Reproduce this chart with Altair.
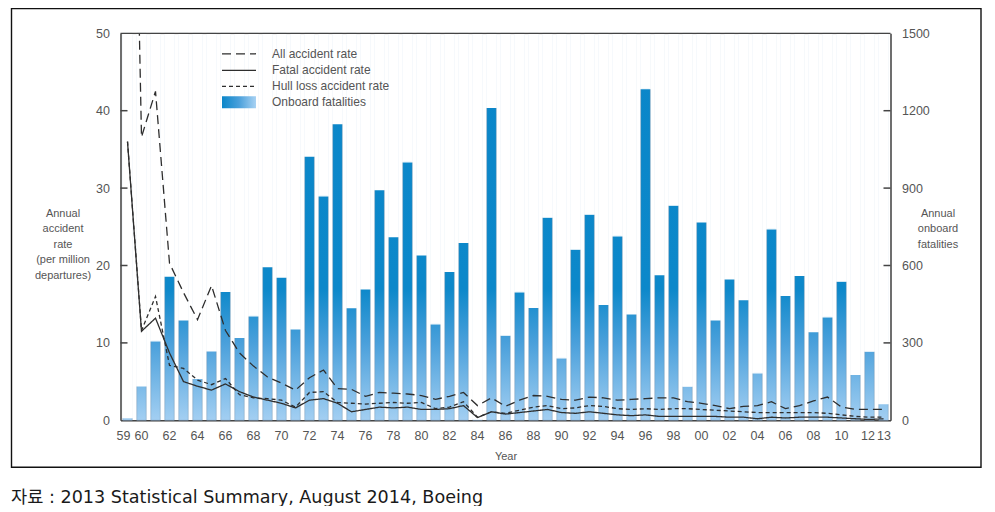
import altair as alt
import pandas as pd

# ---------------- data ----------------
years = list(range(1959, 2014))
fatalities = [10, 133, 308, 559, 389, 162, 269, 500, 321, 405,
              596, 555, 354, 1024, 870, 1150, 437, 509, 894, 712,
              1002, 641, 374, 577, 690, 4, 1213, 330, 498, 438,
              787, 242, 663, 799, 449, 715, 412, 1285, 565, 834,
              132, 769, 389, 548, 468, 184, 742, 484, 562, 344,
              401, 539, 178, 268, 65]
all_rate = [125, 36.6, 42.5, 20.3, 16.5, 13.0, 17.4, 11.6, 8.7, 7.0,
            5.6, 4.8, 3.9, 5.5, 6.5, 4.1, 4.0, 3.1, 3.6, 3.5,
            3.4, 3.2, 2.7, 3.1, 3.6, 1.9, 2.9, 1.8, 2.6, 3.2,
            3.1, 2.7, 2.6, 3.0, 2.9, 2.6, 2.7, 2.8, 2.9, 2.9,
            2.4, 2.2, 1.9, 1.5, 1.8, 1.9, 2.4, 1.5, 1.9, 2.5,
            3.0, 1.7, 1.4, 1.4, 1.4]
fatal_rate = [36.0, 11.5, 13.2, 8.7, 5.0, 4.4, 3.9, 4.7, 3.7, 3.0,
              2.6, 2.2, 1.6, 2.6, 2.8, 2.2, 1.1, 1.4, 1.7, 1.6,
              1.7, 1.4, 1.4, 1.5, 1.9, 0.35, 1.1, 0.8, 1.0, 1.2,
              1.4, 1.0, 0.9, 1.1, 0.9, 0.7, 0.6, 0.7, 0.5, 0.5,
              0.5, 0.5, 0.5, 0.4, 0.4, 0.2, 0.4, 0.3, 0.4, 0.4,
              0.4, 0.3, 0.2, 0.1, 0.2]
hull_rate = [36.0, 11.6, 16.0, 7.1, 6.7, 5.2, 4.6, 5.4, 3.3, 2.9,
             2.8, 2.6, 1.7, 3.6, 3.7, 2.3, 2.2, 2.1, 2.2, 2.3,
             2.2, 2.3, 1.5, 1.7, 2.4, 0.4, 1.1, 0.9, 1.3, 1.7,
             1.9, 1.5, 1.6, 1.9, 1.8, 1.5, 1.4, 1.5, 1.4, 1.5,
             1.5, 1.4, 1.3, 1.2, 1.1, 1.0, 1.0, 1.0, 1.0, 1.0,
             0.9, 0.7, 0.5, 0.4, 0.4]
x_label_years = [1959, 1960] + list(range(1962, 2013, 2)) + [2013]
left_values = [0, 10, 20, 30, 40, 50]
left_ticks = [10, 20, 30, 40]
right_values = [0, 300, 600, 900, 1200, 1500]
right_ticks = [300, 600, 900, 1200]
series_names = ["All accident rate", "Fatal accident rate", "Hull loss accident rate"]
bar_name = "Onboard fatalities"
left_title = ["Annual", "accident", "rate", "(per million", "departures)"]
right_title = ["Annual", "onboard", "fatalities"]
x_title = "Year"
source_note = "자료 : 2013 Statistical Summary, August 2014, Boeing"

assert len(fatalities) == len(years) == len(all_rate) == len(fatal_rate) == len(hull_rate)

# ---------------- layout / style ----------------
W, H = 770, 387
FONT = "Liberation Sans"
TXT = "#555555"
AX = "#444444"
LINE = "#2e2e2e"
RMAX = 1500
LMAX = 50

bars_df = pd.DataFrame({"year": years, "fatalities": fatalities})
bars_df["top"] = RMAX
lines_df = pd.concat([
    pd.DataFrame({"year": years, "rate": vals, "series": name})
    for name, vals in zip(series_names, [all_rate, fatal_rate, hull_rate])
], ignore_index=True)

x_enc = alt.X(
    "year:O",
    scale=alt.Scale(paddingInner=0.32, paddingOuter=0.16),
    axis=alt.Axis(values=x_label_years,
                  labelExpr="substring(toString(datum.value), 2)",
                  labelOffset={"condition": [
                      {"test": "datum.value == 1959", "value": -4},
                      {"test": "datum.value == 2012", "value": -1.5},
                      {"test": "datum.value == 2013", "value": 0.5}],
                      "value": 0},
                  labelAngle=0, ticks=False, labelPadding=9,
                  labelFontSize=12.5, labelColor=TXT, labelFont=FONT,
                  domainColor=AX, domainWidth=1.5,
                  title=x_title, titleFontSize=11, titleFontWeight="normal",
                  titleColor=TXT, titleFont=FONT, titlePadding=9),
)

right_scale = alt.Scale(domain=[0, RMAX], nice=False, zero=True)
right_axis = alt.Axis(orient="right", values=right_values, format="d", ticks=False, grid=False,
                      labelPadding=11, labelFontSize=12.5, labelColor=TXT, labelFont=FONT,
                      domainColor=AX, domainWidth=1.5,
                      title=right_title, titleAngle=0, titleAlign="center",
                      titleBaseline="top", titleX=47, titleY=174,
                      titleFontSize=11, titleFontWeight="normal", titleColor=TXT,
                      titleFont=FONT, titleLineHeight=15.5)
left_scale = alt.Scale(domain=[0, LMAX], nice=False, zero=True)
left_axis = alt.Axis(orient="left", values=left_values, format="d", ticks=False, grid=False,
                     labelPadding=11, labelFontSize=12.5, labelColor=TXT, labelFont=FONT,
                     domainColor=AX, domainWidth=1.5,
                     title=left_title, titleAngle=0, titleAlign="center",
                     titleBaseline="top", titleX=-58, titleY=174,
                     titleFontSize=11, titleFontWeight="normal", titleColor=TXT,
                     titleFont=FONT, titleLineHeight=15.5)

bar_gradient = alt.Gradient(
    gradient="linear", x1=0, x2=0, y1=0, y2=1,
    stops=[alt.GradientStop(color="#0a86c9", offset=0),
           alt.GradientStop(color="#0c88ca", offset=0.66),
           alt.GradientStop(color="#4aa0db", offset=0.80),
           alt.GradientStop(color="#a3cff2", offset=1)])

# full-height gradient column (same box for all -> absolute gradient)
grad_bars = alt.Chart(bars_df).mark_bar(
    color=bar_gradient, stroke="#6f8ea8", strokeWidth=0.5, strokeOpacity=0.8
).encode(x=x_enc, y=alt.Y("top:Q", scale=right_scale, axis=right_axis))

# white cover above each value -> visible bar ends at the value
mask_bars = alt.Chart(bars_df).mark_bar(
    color="white", stroke="white", strokeWidth=1.2
).encode(x=x_enc, y=alt.Y("fatalities:Q", scale=right_scale, axis=right_axis),
         y2="top:Q")

right_tick_layer = alt.Chart(pd.DataFrame({"v": right_ticks})).mark_rule(
    color=AX, strokeWidth=1.5
).encode(x=alt.value(W - 7), x2=alt.value(W),
         y=alt.Y("v:Q", scale=right_scale, axis=right_axis))

right_layer = alt.layer(grad_bars, mask_bars, right_tick_layer)

lines = alt.Chart(lines_df).mark_line(clip=True, color=LINE, strokeWidth=1.3).encode(
    x=x_enc,
    y=alt.Y("rate:Q", scale=left_scale, axis=left_axis),
    strokeDash=alt.StrokeDash("series:N",
                              scale=alt.Scale(domain=series_names,
                                              range=[[9, 5], [1, 0], [4, 3]]),
                              legend=None),
    detail="series:N",
)
left_tick_layer = alt.Chart(pd.DataFrame({"v": left_ticks})).mark_rule(
    color=AX, strokeWidth=1.5
).encode(x=alt.value(0), x2=alt.value(7),
         y=alt.Y("v:Q", scale=left_scale, axis=left_axis))

left_layer = alt.layer(lines, left_tick_layer)

# ---------------- legend ----------------
one = pd.DataFrame({"k": [0]})
LX0, LX1, LTX = 101.5, 135.5, 151.5
LY = [20.5, 37, 53, 69]
dashes = [[9, 5], [1, 0], [4, 3]]
legend_layers = []
for i, name in enumerate(series_names):
    legend_layers.append(
        alt.Chart(one).mark_rule(color=LINE, strokeWidth=1.3, strokeDash=dashes[i]).encode(
            x=alt.value(LX0), x2=alt.value(LX1), y=alt.value(LY[i])))
swatch_gradient = alt.Gradient(
    gradient="linear", x1=0, x2=1, y1=0, y2=0,
    stops=[alt.GradientStop(color="#0a86c9", offset=0),
           alt.GradientStop(color="#4aa0db", offset=0.5),
           alt.GradientStop(color="#a8d2f3", offset=1)])
legend_layers.append(
    alt.Chart(one).mark_rect(color=swatch_gradient).encode(
        x=alt.value(LX0), x2=alt.value(LX1),
        y=alt.value(LY[3] - 6), y2=alt.value(LY[3] + 6)))
for i, lab in enumerate(series_names + [bar_name]):
    legend_layers.append(
        alt.Chart(pd.DataFrame({"label": [lab]})).mark_text(
            align="left", baseline="middle", fontSize=12, font=FONT, color=TXT
        ).encode(x=alt.value(LTX), y=alt.value(LY[i]), text="label:N"))

# ---------------- frame, top border, source ----------------
top_border = alt.Chart(one).mark_rule(color=AX, strokeWidth=1.2).encode(
    x=alt.value(0), x2=alt.value(W), y=alt.value(0))
frame = alt.Chart(one).mark_rect(fillOpacity=0, stroke="#111111", strokeWidth=1.4).encode(
    x=alt.value(-109), x2=alt.value(860.5), y=alt.value(-24.8), y2=alt.value(434))
note = alt.Chart(pd.DataFrame({"t": [source_note]})).mark_text(
    align="left", baseline="alphabetic", fontSize=17.6,
    font="DejaVu Sans, Noto Sans CJK KR", color="#1a1a1a"
).encode(x=alt.value(-109.5), y=alt.value(470), text="t:N")

chart = alt.layer(
    right_layer, left_layer, *legend_layers, top_border, frame, note
).resolve_scale(y="independent").properties(
    width=W, height=H,
    autosize=alt.AutoSizeParams(type="none"),
    padding={"left": 112.5, "top": 25.3, "right": 92, "bottom": 86},
).configure_view(stroke=None).configure(background="white")

chart.save("out.html", embed_options={"renderer": "svg", "actions": False})
